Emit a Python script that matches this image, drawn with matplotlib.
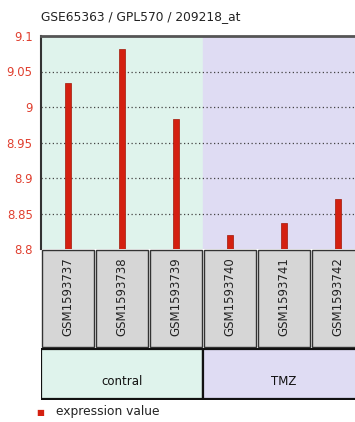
import numpy as np
import matplotlib.pyplot as plt
from matplotlib.patches import Rectangle

plt.rcParams['font.family'] = ['DejaVu Sans']

# data
samples = ['GSM1593737', 'GSM1593738', 'GSM1593739',
           'GSM1593740', 'GSM1593741', 'GSM1593742']
values = [9.034, 9.082, 8.983, 8.820, 8.836, 8.871]
groups = ['contral', 'TMZ']
group_sizes = [3, 3]
yticks = [8.8, 8.85, 8.9, 8.95, 9.0, 9.05, 9.1]
ytick_labels = ['8.8', '8.85', '8.9', '8.95', '9', '9.05', '9.1']

W, H = 355, 422
fig = plt.figure(figsize=(W / 100, H / 100), dpi=100)

left = 41 / W
right_px = 365
width = (right_px - 41) / W
group_colors = ['#dff3ec', '#dfdcf3']
red = '#d42010'

# main plot
ax = fig.add_axes([left, (H - 249) / H, width, (249 - 36) / H])
x = np.arange(len(samples))
start = 0
for g, n in enumerate(group_sizes):
    ax.axvspan(start - 0.5, start + n - 0.5, color=group_colors[g], zorder=0)
    start += n
ax.bar(x, np.array(values) - 8.8, bottom=8.8, width=0.11, color=red,
       edgecolor='#a01808', linewidth=0.5, zorder=3)
ax.set_xlim(-0.5, len(samples) - 0.5)
ax.set_ylim(8.8, 9.1)
ax.set_yticks(yticks)
ax.set_yticklabels(ytick_labels, color='#e04030', fontsize=8.5)
ax.tick_params(axis='y', length=0, pad=6)
ax.set_xticks([])
for yv in yticks[1:-1]:
    ax.axhline(yv, color='#444444', linestyle=(0, (1, 2)), linewidth=0.9, zorder=1)
for s in ['right', 'bottom']:
    ax.spines[s].set_visible(False)
ax.spines['top'].set_linewidth(2)
ax.spines['top'].set_color('#555555')
ax.spines['left'].set_linewidth(1.5)
ax.spines['left'].set_color('#333333')

# sample label boxes
ax2 = fig.add_axes([left, (H - 348) / H, width, (348 - 249) / H])
ax2.set_xlim(-0.5, len(samples) - 0.5)
ax2.set_ylim(0, 1)
ax2.axis('off')
for i, s in enumerate(samples):
    ax2.add_patch(Rectangle((i - 0.485, 0.01), 0.97, 0.98, facecolor='#d6d6d6',
                            edgecolor='#333333', linewidth=1))
    ax2.text(i, 0.52, s, rotation=90, ha='center', va='center', fontsize=8.5,
             color='#222222')

# group boxes
ax3 = fig.add_axes([left, (H - 400) / H, width, (400 - 348) / H])
ax3.set_xlim(-0.5, len(samples) - 0.5)
ax3.set_ylim(0, 1)
ax3.axis('off')
start = 0
for g, n in enumerate(group_sizes):
    ax3.add_patch(Rectangle((start - 0.5, 0.02), n, 0.96, facecolor=group_colors[g],
                            edgecolor='#111111', linewidth=1.6))
    ax3.text(start + n / 2 - 0.5, 0.36, groups[g], ha='center', va='center',
             fontsize=8.5, color='#111111')
    start += n

# title
fig.text(41 / W, 1 - 17 / H, 'GSE65363 / GPL570 / 209218_at', fontsize=8.8,
         ha='left', va='center', color='#222222')

# legend
fig.text(40 / W, 1 - 412 / H, '\u25a0', color=red, fontsize=6, ha='center', va='center')
fig.text(56 / W, 1 - 412 / H, 'expression value', fontsize=8.8, ha='left',
         va='center', color='#222222')

fig.savefig('out.png', dpi=100)
